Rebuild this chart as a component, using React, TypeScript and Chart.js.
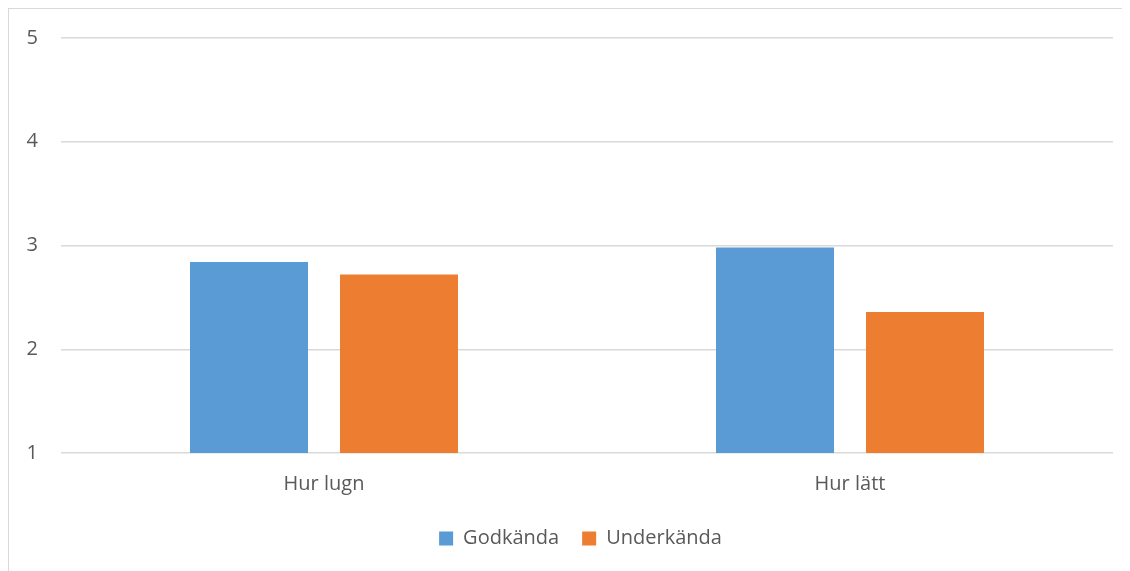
import React, { useEffect, useRef } from "react";
import { Chart, registerables } from "chart.js";

Chart.register(...registerables);

const categories = ["Hur lugn", "Hur lätt"];
const godkandaValues = [2.84, 2.98];
const underkandaValues = [2.72, 2.36];
const seriesNames = ["Godkända", "Underkända"];
const yTicks = [1, 2, 3, 4, 5];

const FONT = "'Open Sans', 'DejaVu Sans', sans-serif";
const TEXT = "#595959";
const GRID = "#d9d9d9";

// Centres the legend row on the whole frame rather than on the padded layout area.
const legendShift = {
  id: "legendShift",
  afterLayout(chart: any) {
    const l = chart.legend;
    if (l) {
      l.left += 19.5;
      l.right += 19.5;
    }
  },
};

export default function App() {
  const ref = useRef<HTMLCanvasElement | null>(null);

  useEffect(() => {
    document.documentElement.style.overflow = "hidden";
    const canvas = ref.current;
    if (!canvas) return;
    const chart = new Chart(canvas, {
      type: "bar",
      data: {
        labels: categories,
        datasets: [
          {
            label: seriesNames[0],
            data: godkandaValues,
            backgroundColor: "#5B9BD5",
            borderWidth: 0,
          },
          {
            label: seriesNames[1],
            data: underkandaValues,
            backgroundColor: "#ED7D31",
            borderWidth: 0,
          },
        ],
      },
      plugins: [legendShift],
      options: {
        animation: false,
        responsive: true,
        maintainAspectRatio: false,
        events: [],
        datasets: {
          bar: { categoryPercentage: 0.5703, barPercentage: 0.7867 },
        },
        layout: { padding: { top: 29, right: 40, bottom: 12.5, left: 0 } },
        plugins: {
          tooltip: { enabled: false },
          legend: {
            position: "bottom",
            labels: {
              boxWidth: 14,
              boxHeight: 14,
              padding: 23,
              color: TEXT,
              font: { family: FONT, size: 20 },
            },
          },
        },
        scales: {
          x: {
            grid: { display: false, drawTicks: false },
            border: { display: false },
            ticks: { color: TEXT, padding: 19, font: { family: FONT, size: 20 } },
            afterFit: (s: any) => {
              s.height = 52.5;
            },
          },
          y: {
            min: yTicks[0],
            max: yTicks[yTicks.length - 1],
            afterBuildTicks: (s: any) => {
              s.ticks = yTicks.map((v) => ({ value: v }));
            },
            grid: { color: GRID, lineWidth: 1.5, drawTicks: false },
            border: { display: false },
            ticks: { color: TEXT, padding: 23, font: { family: FONT, size: 20 } },
            afterFit: (s: any) => {
              s.width = 52;
              s.paddingTop = 0;
              s.paddingBottom = 0;
            },
          },
        },
      },
    });
    return () => chart.destroy();
  }, []);

  return (
    <div
      style={{
        width: 1144,
        height: 562,
        borderLeft: `1px solid ${GRID}`,
        borderTop: `1px solid ${GRID}`,
        position: "relative",
      }}
    >
      <canvas ref={ref} />
    </div>
  );
}
